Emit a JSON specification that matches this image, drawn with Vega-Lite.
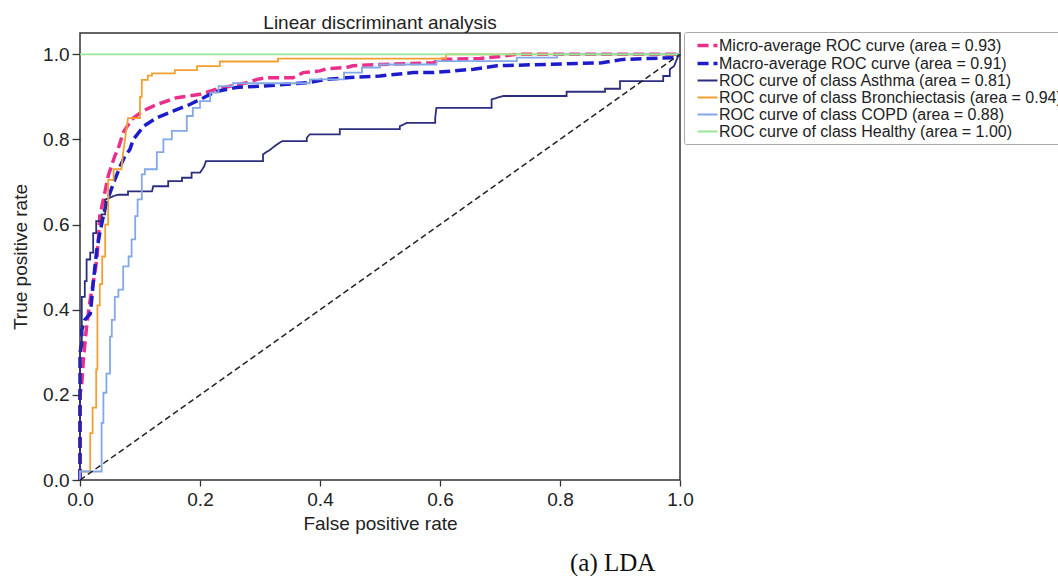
{
  "$schema": "https://vega.github.io/schema/vega-lite/v6.json",
  "padding": {"left": 10, "top": 13, "right": 0, "bottom": 0},
  "config": {
    "font": "Liberation Sans",
    "view": {"stroke": "#333", "strokeWidth": 1.5},
    "axis": {"grid": false, "domain": false, "tickColor": "#333", "tickWidth": 1.3, "labelFontSize": 19, "titleFontSize": 19, "titleFontWeight": "normal", "labelColor": "#222", "titleColor": "#222", "labelFont": "Liberation Sans", "titleFont": "Liberation Sans", "labelFlush": false, "labelOverlap": false},
    "legend": {"labelFontSize": 16, "labelFont": "Liberation Sans", "labelColor": "#222", "symbolType": "M-1.33,0H1.33", "symbolSize": 225, "rowPadding": 0, "padding": 4, "strokeColor": "#aaa", "cornerRadius": 2, "fillColor": "white", "labelLimit": 600, "symbolOffset": 10, "labelOffset": 2}
  },
  "title": {"text": "(a) LDA", "orient": "bottom", "anchor": "start", "frame": "group", "dx": 490, "font": "Liberation Serif", "fontSize": 25, "fontWeight": "normal", "offset": 17, "color": "#111"},
  "vconcat": [
    {
      "width": 600,
      "height": 447,
      "title": {"text": "Linear discriminant analysis", "anchor": "middle", "frame": "group", "fontSize": 19, "fontWeight": "normal", "font": "Liberation Sans", "offset": 0, "color": "#222"},
      "data": {"values": [
        {"s": "Micro-average ROC curve (area = 0.93)", "x": 0, "y": 0},
        {"s": "Micro-average ROC curve (area = 0.93)", "x": 0, "y": 0.2},
        {"s": "Micro-average ROC curve (area = 0.93)", "x": 0.003, "y": 0.228},
        {"s": "Micro-average ROC curve (area = 0.93)", "x": 0.006, "y": 0.29},
        {"s": "Micro-average ROC curve (area = 0.93)", "x": 0.011, "y": 0.36},
        {"s": "Micro-average ROC curve (area = 0.93)", "x": 0.017, "y": 0.424},
        {"s": "Micro-average ROC curve (area = 0.93)", "x": 0.022, "y": 0.463},
        {"s": "Micro-average ROC curve (area = 0.93)", "x": 0.028, "y": 0.518},
        {"s": "Micro-average ROC curve (area = 0.93)", "x": 0.031, "y": 0.572},
        {"s": "Micro-average ROC curve (area = 0.93)", "x": 0.033, "y": 0.62},
        {"s": "Micro-average ROC curve (area = 0.93)", "x": 0.039, "y": 0.659},
        {"s": "Micro-average ROC curve (area = 0.93)", "x": 0.047, "y": 0.714},
        {"s": "Micro-average ROC curve (area = 0.93)", "x": 0.053, "y": 0.74},
        {"s": "Micro-average ROC curve (area = 0.93)", "x": 0.058, "y": 0.761},
        {"s": "Micro-average ROC curve (area = 0.93)", "x": 0.064, "y": 0.78},
        {"s": "Micro-average ROC curve (area = 0.93)", "x": 0.072, "y": 0.816},
        {"s": "Micro-average ROC curve (area = 0.93)", "x": 0.086, "y": 0.847},
        {"s": "Micro-average ROC curve (area = 0.93)", "x": 0.105, "y": 0.867},
        {"s": "Micro-average ROC curve (area = 0.93)", "x": 0.128, "y": 0.882},
        {"s": "Micro-average ROC curve (area = 0.93)", "x": 0.161, "y": 0.898},
        {"s": "Micro-average ROC curve (area = 0.93)", "x": 0.2, "y": 0.906},
        {"s": "Micro-average ROC curve (area = 0.93)", "x": 0.228, "y": 0.918},
        {"s": "Micro-average ROC curve (area = 0.93)", "x": 0.25, "y": 0.925},
        {"s": "Micro-average ROC curve (area = 0.93)", "x": 0.278, "y": 0.933},
        {"s": "Micro-average ROC curve (area = 0.93)", "x": 0.295, "y": 0.941},
        {"s": "Micro-average ROC curve (area = 0.93)", "x": 0.31, "y": 0.945},
        {"s": "Micro-average ROC curve (area = 0.93)", "x": 0.355, "y": 0.945},
        {"s": "Micro-average ROC curve (area = 0.93)", "x": 0.372, "y": 0.957},
        {"s": "Micro-average ROC curve (area = 0.93)", "x": 0.4, "y": 0.961},
        {"s": "Micro-average ROC curve (area = 0.93)", "x": 0.411, "y": 0.966},
        {"s": "Micro-average ROC curve (area = 0.93)", "x": 0.444, "y": 0.969},
        {"s": "Micro-average ROC curve (area = 0.93)", "x": 0.455, "y": 0.973},
        {"s": "Micro-average ROC curve (area = 0.93)", "x": 0.5, "y": 0.976},
        {"s": "Micro-average ROC curve (area = 0.93)", "x": 0.589, "y": 0.98},
        {"s": "Micro-average ROC curve (area = 0.93)", "x": 0.6, "y": 0.988},
        {"s": "Micro-average ROC curve (area = 0.93)", "x": 0.667, "y": 0.99},
        {"s": "Micro-average ROC curve (area = 0.93)", "x": 0.7, "y": 0.995},
        {"s": "Micro-average ROC curve (area = 0.93)", "x": 0.728, "y": 1.0},
        {"s": "Micro-average ROC curve (area = 0.93)", "x": 1, "y": 1},

        {"s": "Macro-average ROC curve (area = 0.91)", "x": 0, "y": 0},
        {"s": "Macro-average ROC curve (area = 0.91)", "x": 0, "y": 0.3},
        {"s": "Macro-average ROC curve (area = 0.91)", "x": 0.003, "y": 0.32},
        {"s": "Macro-average ROC curve (area = 0.91)", "x": 0.003, "y": 0.353},
        {"s": "Macro-average ROC curve (area = 0.91)", "x": 0.008, "y": 0.376},
        {"s": "Macro-average ROC curve (area = 0.91)", "x": 0.017, "y": 0.39},
        {"s": "Macro-average ROC curve (area = 0.91)", "x": 0.019, "y": 0.416},
        {"s": "Macro-average ROC curve (area = 0.91)", "x": 0.022, "y": 0.463},
        {"s": "Macro-average ROC curve (area = 0.91)", "x": 0.025, "y": 0.502},
        {"s": "Macro-average ROC curve (area = 0.91)", "x": 0.028, "y": 0.541},
        {"s": "Macro-average ROC curve (area = 0.91)", "x": 0.033, "y": 0.58},
        {"s": "Macro-average ROC curve (area = 0.91)", "x": 0.039, "y": 0.62},
        {"s": "Macro-average ROC curve (area = 0.91)", "x": 0.044, "y": 0.651},
        {"s": "Macro-average ROC curve (area = 0.91)", "x": 0.056, "y": 0.698},
        {"s": "Macro-average ROC curve (area = 0.91)", "x": 0.067, "y": 0.737},
        {"s": "Macro-average ROC curve (area = 0.91)", "x": 0.075, "y": 0.761},
        {"s": "Macro-average ROC curve (area = 0.91)", "x": 0.083, "y": 0.776},
        {"s": "Macro-average ROC curve (area = 0.91)", "x": 0.089, "y": 0.8},
        {"s": "Macro-average ROC curve (area = 0.91)", "x": 0.106, "y": 0.831},
        {"s": "Macro-average ROC curve (area = 0.91)", "x": 0.128, "y": 0.851},
        {"s": "Macro-average ROC curve (area = 0.91)", "x": 0.156, "y": 0.867},
        {"s": "Macro-average ROC curve (area = 0.91)", "x": 0.183, "y": 0.882},
        {"s": "Macro-average ROC curve (area = 0.91)", "x": 0.206, "y": 0.898},
        {"s": "Macro-average ROC curve (area = 0.91)", "x": 0.225, "y": 0.912},
        {"s": "Macro-average ROC curve (area = 0.91)", "x": 0.26, "y": 0.922},
        {"s": "Macro-average ROC curve (area = 0.91)", "x": 0.3, "y": 0.925},
        {"s": "Macro-average ROC curve (area = 0.91)", "x": 0.378, "y": 0.933},
        {"s": "Macro-average ROC curve (area = 0.91)", "x": 0.411, "y": 0.941},
        {"s": "Macro-average ROC curve (area = 0.91)", "x": 0.444, "y": 0.945},
        {"s": "Macro-average ROC curve (area = 0.91)", "x": 0.5, "y": 0.949},
        {"s": "Macro-average ROC curve (area = 0.91)", "x": 0.556, "y": 0.957},
        {"s": "Macro-average ROC curve (area = 0.91)", "x": 0.589, "y": 0.957},
        {"s": "Macro-average ROC curve (area = 0.91)", "x": 0.656, "y": 0.965},
        {"s": "Macro-average ROC curve (area = 0.91)", "x": 0.695, "y": 0.973},
        {"s": "Macro-average ROC curve (area = 0.91)", "x": 0.87, "y": 0.98},
        {"s": "Macro-average ROC curve (area = 0.91)", "x": 0.905, "y": 0.988},
        {"s": "Macro-average ROC curve (area = 0.91)", "x": 0.99, "y": 0.992},
        {"s": "Macro-average ROC curve (area = 0.91)", "x": 1, "y": 1},

        {"s": "ROC curve of class Asthma (area = 0.81)", "x": 0, "y": 0},
        {"s": "ROC curve of class Asthma (area = 0.81)", "x": 0, "y": 0.314},
        {"s": "ROC curve of class Asthma (area = 0.81)", "x": 0.003, "y": 0.314},
        {"s": "ROC curve of class Asthma (area = 0.81)", "x": 0.003, "y": 0.43},
        {"s": "ROC curve of class Asthma (area = 0.81)", "x": 0.008, "y": 0.43},
        {"s": "ROC curve of class Asthma (area = 0.81)", "x": 0.008, "y": 0.467},
        {"s": "ROC curve of class Asthma (area = 0.81)", "x": 0.011, "y": 0.467},
        {"s": "ROC curve of class Asthma (area = 0.81)", "x": 0.011, "y": 0.518},
        {"s": "ROC curve of class Asthma (area = 0.81)", "x": 0.017, "y": 0.518},
        {"s": "ROC curve of class Asthma (area = 0.81)", "x": 0.017, "y": 0.534},
        {"s": "ROC curve of class Asthma (area = 0.81)", "x": 0.022, "y": 0.534},
        {"s": "ROC curve of class Asthma (area = 0.81)", "x": 0.022, "y": 0.58},
        {"s": "ROC curve of class Asthma (area = 0.81)", "x": 0.027, "y": 0.58},
        {"s": "ROC curve of class Asthma (area = 0.81)", "x": 0.027, "y": 0.608},
        {"s": "ROC curve of class Asthma (area = 0.81)", "x": 0.036, "y": 0.608},
        {"s": "ROC curve of class Asthma (area = 0.81)", "x": 0.036, "y": 0.624},
        {"s": "ROC curve of class Asthma (area = 0.81)", "x": 0.042, "y": 0.624},
        {"s": "ROC curve of class Asthma (area = 0.81)", "x": 0.042, "y": 0.659},
        {"s": "ROC curve of class Asthma (area = 0.81)", "x": 0.05, "y": 0.663},
        {"s": "ROC curve of class Asthma (area = 0.81)", "x": 0.056, "y": 0.667},
        {"s": "ROC curve of class Asthma (area = 0.81)", "x": 0.064, "y": 0.67},
        {"s": "ROC curve of class Asthma (area = 0.81)", "x": 0.08, "y": 0.67},
        {"s": "ROC curve of class Asthma (area = 0.81)", "x": 0.08, "y": 0.678},
        {"s": "ROC curve of class Asthma (area = 0.81)", "x": 0.12, "y": 0.678},
        {"s": "ROC curve of class Asthma (area = 0.81)", "x": 0.122, "y": 0.69},
        {"s": "ROC curve of class Asthma (area = 0.81)", "x": 0.147, "y": 0.69},
        {"s": "ROC curve of class Asthma (area = 0.81)", "x": 0.147, "y": 0.702},
        {"s": "ROC curve of class Asthma (area = 0.81)", "x": 0.17, "y": 0.702},
        {"s": "ROC curve of class Asthma (area = 0.81)", "x": 0.17, "y": 0.71},
        {"s": "ROC curve of class Asthma (area = 0.81)", "x": 0.186, "y": 0.71},
        {"s": "ROC curve of class Asthma (area = 0.81)", "x": 0.186, "y": 0.722},
        {"s": "ROC curve of class Asthma (area = 0.81)", "x": 0.2, "y": 0.722},
        {"s": "ROC curve of class Asthma (area = 0.81)", "x": 0.203, "y": 0.728},
        {"s": "ROC curve of class Asthma (area = 0.81)", "x": 0.207, "y": 0.737},
        {"s": "ROC curve of class Asthma (area = 0.81)", "x": 0.21, "y": 0.749},
        {"s": "ROC curve of class Asthma (area = 0.81)", "x": 0.305, "y": 0.749},
        {"s": "ROC curve of class Asthma (area = 0.81)", "x": 0.305, "y": 0.765},
        {"s": "ROC curve of class Asthma (area = 0.81)", "x": 0.317, "y": 0.776},
        {"s": "ROC curve of class Asthma (area = 0.81)", "x": 0.328, "y": 0.788},
        {"s": "ROC curve of class Asthma (area = 0.81)", "x": 0.337, "y": 0.796},
        {"s": "ROC curve of class Asthma (area = 0.81)", "x": 0.378, "y": 0.796},
        {"s": "ROC curve of class Asthma (area = 0.81)", "x": 0.378, "y": 0.804},
        {"s": "ROC curve of class Asthma (area = 0.81)", "x": 0.383, "y": 0.812},
        {"s": "ROC curve of class Asthma (area = 0.81)", "x": 0.433, "y": 0.812},
        {"s": "ROC curve of class Asthma (area = 0.81)", "x": 0.433, "y": 0.824},
        {"s": "ROC curve of class Asthma (area = 0.81)", "x": 0.533, "y": 0.824},
        {"s": "ROC curve of class Asthma (area = 0.81)", "x": 0.533, "y": 0.831},
        {"s": "ROC curve of class Asthma (area = 0.81)", "x": 0.545, "y": 0.839},
        {"s": "ROC curve of class Asthma (area = 0.81)", "x": 0.592, "y": 0.839},
        {"s": "ROC curve of class Asthma (area = 0.81)", "x": 0.592, "y": 0.851},
        {"s": "ROC curve of class Asthma (area = 0.81)", "x": 0.594, "y": 0.874},
        {"s": "ROC curve of class Asthma (area = 0.81)", "x": 0.686, "y": 0.874},
        {"s": "ROC curve of class Asthma (area = 0.81)", "x": 0.686, "y": 0.894},
        {"s": "ROC curve of class Asthma (area = 0.81)", "x": 0.705, "y": 0.902},
        {"s": "ROC curve of class Asthma (area = 0.81)", "x": 0.811, "y": 0.902},
        {"s": "ROC curve of class Asthma (area = 0.81)", "x": 0.811, "y": 0.912},
        {"s": "ROC curve of class Asthma (area = 0.81)", "x": 0.875, "y": 0.912},
        {"s": "ROC curve of class Asthma (area = 0.81)", "x": 0.875, "y": 0.919},
        {"s": "ROC curve of class Asthma (area = 0.81)", "x": 0.9, "y": 0.919},
        {"s": "ROC curve of class Asthma (area = 0.81)", "x": 0.9, "y": 0.937},
        {"s": "ROC curve of class Asthma (area = 0.81)", "x": 0.972, "y": 0.937},
        {"s": "ROC curve of class Asthma (area = 0.81)", "x": 0.972, "y": 0.949},
        {"s": "ROC curve of class Asthma (area = 0.81)", "x": 0.983, "y": 0.949},
        {"s": "ROC curve of class Asthma (area = 0.81)", "x": 0.983, "y": 0.965},
        {"s": "ROC curve of class Asthma (area = 0.81)", "x": 0.99, "y": 0.972},
        {"s": "ROC curve of class Asthma (area = 0.81)", "x": 0.997, "y": 0.996},
        {"s": "ROC curve of class Asthma (area = 0.81)", "x": 1, "y": 1},

        {"s": "ROC curve of class Bronchiectasis (area = 0.94)", "x": 0, "y": 0},
        {"s": "ROC curve of class Bronchiectasis (area = 0.94)", "x": 0, "y": 0.02},
        {"s": "ROC curve of class Bronchiectasis (area = 0.94)", "x": 0.017, "y": 0.02},
        {"s": "ROC curve of class Bronchiectasis (area = 0.94)", "x": 0.017, "y": 0.11},
        {"s": "ROC curve of class Bronchiectasis (area = 0.94)", "x": 0.021, "y": 0.11},
        {"s": "ROC curve of class Bronchiectasis (area = 0.94)", "x": 0.021, "y": 0.17},
        {"s": "ROC curve of class Bronchiectasis (area = 0.94)", "x": 0.027, "y": 0.17},
        {"s": "ROC curve of class Bronchiectasis (area = 0.94)", "x": 0.027, "y": 0.26},
        {"s": "ROC curve of class Bronchiectasis (area = 0.94)", "x": 0.029, "y": 0.26},
        {"s": "ROC curve of class Bronchiectasis (area = 0.94)", "x": 0.029, "y": 0.41},
        {"s": "ROC curve of class Bronchiectasis (area = 0.94)", "x": 0.033, "y": 0.41},
        {"s": "ROC curve of class Bronchiectasis (area = 0.94)", "x": 0.033, "y": 0.46},
        {"s": "ROC curve of class Bronchiectasis (area = 0.94)", "x": 0.037, "y": 0.46},
        {"s": "ROC curve of class Bronchiectasis (area = 0.94)", "x": 0.037, "y": 0.525},
        {"s": "ROC curve of class Bronchiectasis (area = 0.94)", "x": 0.042, "y": 0.525},
        {"s": "ROC curve of class Bronchiectasis (area = 0.94)", "x": 0.042, "y": 0.6},
        {"s": "ROC curve of class Bronchiectasis (area = 0.94)", "x": 0.047, "y": 0.6},
        {"s": "ROC curve of class Bronchiectasis (area = 0.94)", "x": 0.047, "y": 0.705},
        {"s": "ROC curve of class Bronchiectasis (area = 0.94)", "x": 0.056, "y": 0.705},
        {"s": "ROC curve of class Bronchiectasis (area = 0.94)", "x": 0.056, "y": 0.73},
        {"s": "ROC curve of class Bronchiectasis (area = 0.94)", "x": 0.069, "y": 0.73},
        {"s": "ROC curve of class Bronchiectasis (area = 0.94)", "x": 0.072, "y": 0.77},
        {"s": "ROC curve of class Bronchiectasis (area = 0.94)", "x": 0.075, "y": 0.8},
        {"s": "ROC curve of class Bronchiectasis (area = 0.94)", "x": 0.078, "y": 0.83},
        {"s": "ROC curve of class Bronchiectasis (area = 0.94)", "x": 0.08, "y": 0.85},
        {"s": "ROC curve of class Bronchiectasis (area = 0.94)", "x": 0.1, "y": 0.85},
        {"s": "ROC curve of class Bronchiectasis (area = 0.94)", "x": 0.1, "y": 0.9},
        {"s": "ROC curve of class Bronchiectasis (area = 0.94)", "x": 0.103, "y": 0.9},
        {"s": "ROC curve of class Bronchiectasis (area = 0.94)", "x": 0.103, "y": 0.94},
        {"s": "ROC curve of class Bronchiectasis (area = 0.94)", "x": 0.113, "y": 0.94},
        {"s": "ROC curve of class Bronchiectasis (area = 0.94)", "x": 0.113, "y": 0.95},
        {"s": "ROC curve of class Bronchiectasis (area = 0.94)", "x": 0.12, "y": 0.95},
        {"s": "ROC curve of class Bronchiectasis (area = 0.94)", "x": 0.12, "y": 0.955},
        {"s": "ROC curve of class Bronchiectasis (area = 0.94)", "x": 0.158, "y": 0.955},
        {"s": "ROC curve of class Bronchiectasis (area = 0.94)", "x": 0.158, "y": 0.963},
        {"s": "ROC curve of class Bronchiectasis (area = 0.94)", "x": 0.195, "y": 0.963},
        {"s": "ROC curve of class Bronchiectasis (area = 0.94)", "x": 0.195, "y": 0.972},
        {"s": "ROC curve of class Bronchiectasis (area = 0.94)", "x": 0.233, "y": 0.972},
        {"s": "ROC curve of class Bronchiectasis (area = 0.94)", "x": 0.233, "y": 0.983},
        {"s": "ROC curve of class Bronchiectasis (area = 0.94)", "x": 0.33, "y": 0.983},
        {"s": "ROC curve of class Bronchiectasis (area = 0.94)", "x": 0.33, "y": 0.99},
        {"s": "ROC curve of class Bronchiectasis (area = 0.94)", "x": 0.61, "y": 0.99},
        {"s": "ROC curve of class Bronchiectasis (area = 0.94)", "x": 0.61, "y": 1.0},
        {"s": "ROC curve of class Bronchiectasis (area = 0.94)", "x": 1, "y": 1},

        {"s": "ROC curve of class COPD (area = 0.88)", "x": 0, "y": 0},
        {"s": "ROC curve of class COPD (area = 0.88)", "x": 0, "y": 0.02},
        {"s": "ROC curve of class COPD (area = 0.88)", "x": 0.036, "y": 0.02},
        {"s": "ROC curve of class COPD (area = 0.88)", "x": 0.036, "y": 0.134},
        {"s": "ROC curve of class COPD (area = 0.88)", "x": 0.039, "y": 0.134},
        {"s": "ROC curve of class COPD (area = 0.88)", "x": 0.039, "y": 0.205},
        {"s": "ROC curve of class COPD (area = 0.88)", "x": 0.044, "y": 0.205},
        {"s": "ROC curve of class COPD (area = 0.88)", "x": 0.044, "y": 0.25},
        {"s": "ROC curve of class COPD (area = 0.88)", "x": 0.05, "y": 0.25},
        {"s": "ROC curve of class COPD (area = 0.88)", "x": 0.05, "y": 0.337},
        {"s": "ROC curve of class COPD (area = 0.88)", "x": 0.053, "y": 0.337},
        {"s": "ROC curve of class COPD (area = 0.88)", "x": 0.053, "y": 0.376},
        {"s": "ROC curve of class COPD (area = 0.88)", "x": 0.058, "y": 0.376},
        {"s": "ROC curve of class COPD (area = 0.88)", "x": 0.058, "y": 0.43},
        {"s": "ROC curve of class COPD (area = 0.88)", "x": 0.064, "y": 0.43},
        {"s": "ROC curve of class COPD (area = 0.88)", "x": 0.064, "y": 0.447},
        {"s": "ROC curve of class COPD (area = 0.88)", "x": 0.072, "y": 0.447},
        {"s": "ROC curve of class COPD (area = 0.88)", "x": 0.072, "y": 0.502},
        {"s": "ROC curve of class COPD (area = 0.88)", "x": 0.081, "y": 0.502},
        {"s": "ROC curve of class COPD (area = 0.88)", "x": 0.081, "y": 0.525},
        {"s": "ROC curve of class COPD (area = 0.88)", "x": 0.086, "y": 0.525},
        {"s": "ROC curve of class COPD (area = 0.88)", "x": 0.086, "y": 0.565},
        {"s": "ROC curve of class COPD (area = 0.88)", "x": 0.092, "y": 0.565},
        {"s": "ROC curve of class COPD (area = 0.88)", "x": 0.092, "y": 0.62},
        {"s": "ROC curve of class COPD (area = 0.88)", "x": 0.096, "y": 0.62},
        {"s": "ROC curve of class COPD (area = 0.88)", "x": 0.096, "y": 0.659},
        {"s": "ROC curve of class COPD (area = 0.88)", "x": 0.103, "y": 0.659},
        {"s": "ROC curve of class COPD (area = 0.88)", "x": 0.103, "y": 0.718},
        {"s": "ROC curve of class COPD (area = 0.88)", "x": 0.108, "y": 0.718},
        {"s": "ROC curve of class COPD (area = 0.88)", "x": 0.108, "y": 0.73},
        {"s": "ROC curve of class COPD (area = 0.88)", "x": 0.128, "y": 0.73},
        {"s": "ROC curve of class COPD (area = 0.88)", "x": 0.128, "y": 0.77},
        {"s": "ROC curve of class COPD (area = 0.88)", "x": 0.139, "y": 0.77},
        {"s": "ROC curve of class COPD (area = 0.88)", "x": 0.139, "y": 0.8},
        {"s": "ROC curve of class COPD (area = 0.88)", "x": 0.153, "y": 0.8},
        {"s": "ROC curve of class COPD (area = 0.88)", "x": 0.153, "y": 0.82},
        {"s": "ROC curve of class COPD (area = 0.88)", "x": 0.178, "y": 0.82},
        {"s": "ROC curve of class COPD (area = 0.88)", "x": 0.178, "y": 0.855},
        {"s": "ROC curve of class COPD (area = 0.88)", "x": 0.188, "y": 0.855},
        {"s": "ROC curve of class COPD (area = 0.88)", "x": 0.188, "y": 0.874},
        {"s": "ROC curve of class COPD (area = 0.88)", "x": 0.2, "y": 0.874},
        {"s": "ROC curve of class COPD (area = 0.88)", "x": 0.2, "y": 0.89},
        {"s": "ROC curve of class COPD (area = 0.88)", "x": 0.217, "y": 0.89},
        {"s": "ROC curve of class COPD (area = 0.88)", "x": 0.217, "y": 0.91},
        {"s": "ROC curve of class COPD (area = 0.88)", "x": 0.231, "y": 0.91},
        {"s": "ROC curve of class COPD (area = 0.88)", "x": 0.231, "y": 0.925},
        {"s": "ROC curve of class COPD (area = 0.88)", "x": 0.255, "y": 0.925},
        {"s": "ROC curve of class COPD (area = 0.88)", "x": 0.255, "y": 0.932},
        {"s": "ROC curve of class COPD (area = 0.88)", "x": 0.383, "y": 0.932},
        {"s": "ROC curve of class COPD (area = 0.88)", "x": 0.383, "y": 0.941},
        {"s": "ROC curve of class COPD (area = 0.88)", "x": 0.44, "y": 0.941},
        {"s": "ROC curve of class COPD (area = 0.88)", "x": 0.44, "y": 0.957},
        {"s": "ROC curve of class COPD (area = 0.88)", "x": 0.47, "y": 0.957},
        {"s": "ROC curve of class COPD (area = 0.88)", "x": 0.47, "y": 0.969},
        {"s": "ROC curve of class COPD (area = 0.88)", "x": 0.5, "y": 0.969},
        {"s": "ROC curve of class COPD (area = 0.88)", "x": 0.5, "y": 0.976},
        {"s": "ROC curve of class COPD (area = 0.88)", "x": 0.594, "y": 0.976},
        {"s": "ROC curve of class COPD (area = 0.88)", "x": 0.594, "y": 0.984},
        {"s": "ROC curve of class COPD (area = 0.88)", "x": 0.728, "y": 0.984},
        {"s": "ROC curve of class COPD (area = 0.88)", "x": 0.728, "y": 0.992},
        {"s": "ROC curve of class COPD (area = 0.88)", "x": 0.795, "y": 0.992},
        {"s": "ROC curve of class COPD (area = 0.88)", "x": 0.795, "y": 1.0},
        {"s": "ROC curve of class COPD (area = 0.88)", "x": 1, "y": 1},

        {"s": "ROC curve of class Healthy (area = 1.00)", "x": 0, "y": 1},
        {"s": "ROC curve of class Healthy (area = 1.00)", "x": 1, "y": 1}
      ]},
      "encoding": {
        "x": {"field": "x", "type": "quantitative", "scale": {"domain": [0, 1], "nice": false, "zero": false},
              "axis": {"title": "False positive rate", "values": [0, 0.2, 0.4, 0.6, 0.8, 1], "format": ".1f", "tickSize": 6, "labelPadding": 4, "titlePadding": 5}},
        "y": {"field": "y", "type": "quantitative", "scale": {"domain": [0, 1.05], "nice": false, "zero": false},
              "axis": {"title": "True positive rate", "values": [0, 0.2, 0.4, 0.6, 0.8, 1], "format": ".1f", "tickSize": 8, "labelPadding": 3, "titlePadding": 12}}
      },
      "layer": [
        {
          "transform": [{"filter": "indexof(datum.s, 'average') >= 0"}],
          "mark": {"type": "line", "strokeCap": "butt"},
          "encoding": {
            "color": {"field": "s", "type": "nominal", "scale": {"domain": ["Micro-average ROC curve (area = 0.93)", "Macro-average ROC curve (area = 0.91)", "ROC curve of class Asthma (area = 0.81)", "ROC curve of class Bronchiectasis (area = 0.94)", "ROC curve of class COPD (area = 0.88)", "ROC curve of class Healthy (area = 1.00)"], "range": ["#ea2e8c", "#1c1ccb", "#2d2d80", "#f0a030", "#82a8e6", "#98e698"]},
                      "legend": {"title": null, "orient": "none", "legendX": 604, "legendY": -1}},
            "strokeDash": {"field": "s", "type": "nominal", "scale": {"domain": ["Micro-average ROC curve (area = 0.93)", "Macro-average ROC curve (area = 0.91)", "ROC curve of class Asthma (area = 0.81)", "ROC curve of class Bronchiectasis (area = 0.94)", "ROC curve of class COPD (area = 0.88)", "ROC curve of class Healthy (area = 1.00)"], "range": [[11, 5], [11, 5], [1, 0], [1, 0], [1, 0], [1, 0]]},
                      "legend": {"title": null, "orient": "none", "legendX": 604, "legendY": -1}},
            "strokeWidth": {"field": "s", "type": "nominal", "scale": {"type": "ordinal", "domain": ["Micro-average ROC curve (area = 0.93)", "Macro-average ROC curve (area = 0.91)", "ROC curve of class Asthma (area = 0.81)", "ROC curve of class Bronchiectasis (area = 0.94)", "ROC curve of class COPD (area = 0.88)", "ROC curve of class Healthy (area = 1.00)"], "range": [3.5, 3.5, 1.8, 1.8, 1.8, 1.8]},
                      "legend": {"title": null, "orient": "none", "legendX": 604, "legendY": -1}},
            "order": [{"field": "x", "type": "quantitative"}, {"field": "y", "type": "quantitative"}]
          }
        },
        {
          "transform": [{"filter": "indexof(datum.s, 'average') < 0"}],
          "mark": {"type": "line", "strokeCap": "butt"},
          "encoding": {
            "color": {"field": "s", "type": "nominal", "scale": {"domain": ["Micro-average ROC curve (area = 0.93)", "Macro-average ROC curve (area = 0.91)", "ROC curve of class Asthma (area = 0.81)", "ROC curve of class Bronchiectasis (area = 0.94)", "ROC curve of class COPD (area = 0.88)", "ROC curve of class Healthy (area = 1.00)"], "range": ["#ea2e8c", "#1c1ccb", "#2d2d80", "#f0a030", "#82a8e6", "#98e698"]},
                      "legend": {"title": null, "orient": "none", "legendX": 604, "legendY": -1}},
            "strokeDash": {"field": "s", "type": "nominal", "scale": {"domain": ["Micro-average ROC curve (area = 0.93)", "Macro-average ROC curve (area = 0.91)", "ROC curve of class Asthma (area = 0.81)", "ROC curve of class Bronchiectasis (area = 0.94)", "ROC curve of class COPD (area = 0.88)", "ROC curve of class Healthy (area = 1.00)"], "range": [[11, 5], [11, 5], [1, 0], [1, 0], [1, 0], [1, 0]]},
                      "legend": {"title": null, "orient": "none", "legendX": 604, "legendY": -1}},
            "strokeWidth": {"field": "s", "type": "nominal", "scale": {"type": "ordinal", "domain": ["Micro-average ROC curve (area = 0.93)", "Macro-average ROC curve (area = 0.91)", "ROC curve of class Asthma (area = 0.81)", "ROC curve of class Bronchiectasis (area = 0.94)", "ROC curve of class COPD (area = 0.88)", "ROC curve of class Healthy (area = 1.00)"], "range": [3.5, 3.5, 1.8, 1.8, 1.8, 1.8]},
                      "legend": {"title": null, "orient": "none", "legendX": 604, "legendY": -1}},
            "order": [{"field": "x", "type": "quantitative"}, {"field": "y", "type": "quantitative"}]
          }
        },
        {
          "data": {"values": [{"x": 0, "y": 0}, {"x": 1, "y": 1}]},
          "mark": {"type": "line", "color": "#222", "strokeWidth": 1.5, "strokeDash": [6, 3.5]},
          "encoding": {}
        }
      ]
    }
  ]
}
